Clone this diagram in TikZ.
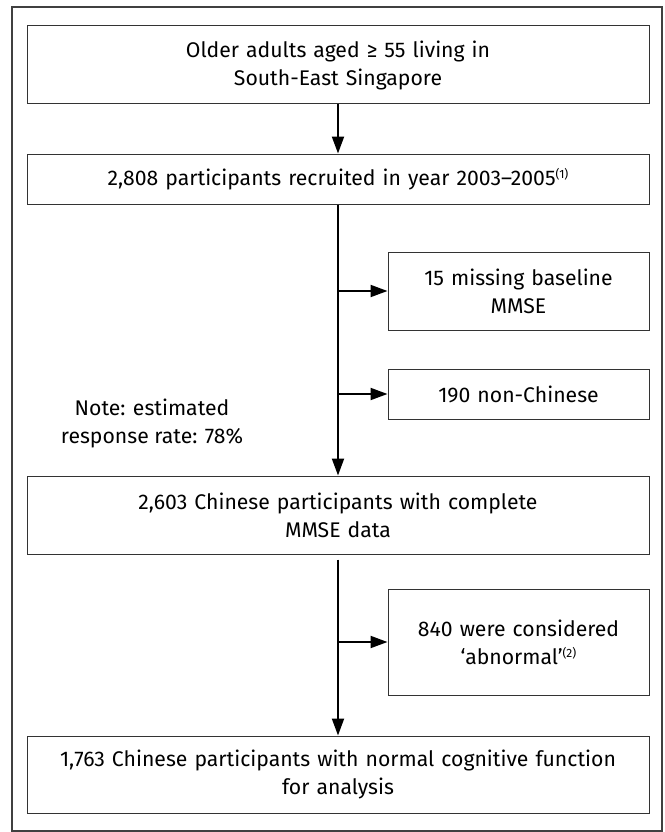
\documentclass[tikz,border=0pt]{standalone}
\usepackage{fontspec}
\setmainfont{Fira Sans}
\usetikzlibrary{positioning,arrows.meta}
\newcommand{\fnref}[1]{{\fontsize{12}{12}\selectfont\raisebox{6.5pt}{(#1)}}}
\begin{document}
\begin{tikzpicture}[x=1pt,y=-1pt,
			main box/.style={draw=black!80,line width=1pt,minimum width=622pt,text width=618pt,align=center,inner sep=0pt,font=\fontsize{21.2}{28}\selectfont},
			side box/.style={main box,minimum width=261pt,text width=257pt},
			flow/.style={-{Triangle[length=17pt,width=12pt]},line width=2pt},
			node distance=49pt]
			\useasboundingbox (0,0) rectangle (664,832);
			\draw[black!75,line width=1.3pt] (12,7) rectangle (662,831);
			\node[main box,minimum height=78pt] (s_1) at (338,65) {Older adults aged ≥ 55 living in\\South-East Singapore};
			\node[main box,minimum height=50pt] (s_2) [below=of s_1] {2,808 participants recruited in year 2003--2005\fnref{1}};
			\node[main box,minimum height=78pt] (s_3) [below=271pt of s_2] {2,603 Chinese participants with complete\\MMSE data};
			\node[main box,minimum height=77pt] (s_4) [below=181pt of s_3] {1,763 Chinese participants with normal cognitive function\\for analysis};
			\node[side box,minimum height=78pt] (x_1) at (518.5,291) {15 missing baseline\\MMSE};
			\node[side box,minimum height=50pt] (x_2) at (518.5,394) {190 non-Chinese};
			\node[side box,minimum height=106pt] (x_3) at (518.5,642) {840 were considered\\‘abnormal’\fnref{2}};
			\node[align=center,font=\fontsize{21.2}{28}\selectfont] (note) at (152,423) {Note: estimated\\response rate: 78\%};
			\draw[flow] (s_1) -- (s_2);
			\draw[flow] (s_2) -- (s_3);
			\draw[flow,shorten <=5pt] (s_3) -- (s_4);
			\draw[flow] (s_2.south |- x_1) -- (x_1);
			\draw[flow] (s_2.south |- x_2) -- (x_2);
			\draw[flow] (s_3.south |- x_3) -- (x_3);
		\end{tikzpicture}
\end{document}
